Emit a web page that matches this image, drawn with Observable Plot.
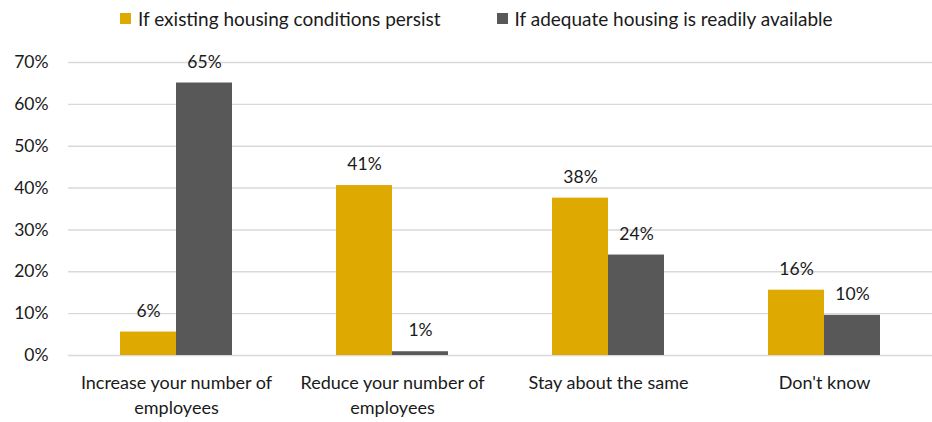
<!DOCTYPE html>
<html>
<head>
<meta charset="utf-8">
<script src="https://cdn.jsdelivr.net/npm/d3@7"></script>
<script src="https://cdn.jsdelivr.net/npm/@observablehq/plot@0.6"></script>
<style>
  html, body { margin: 0; padding: 0; background: #fff; }
  body { width: 932px; height: 422px; overflow: hidden; font-family: Lato, "Liberation Sans", sans-serif; color: #1a1a1a; }
  #legend { height: 36px; display: flex; align-items: center; padding-left: 120px; font-size: 19px; }
  .item { display: flex; align-items: center; margin-right: 56px; }
  .sw { width: 11px; height: 11px; margin-right: 7px; }
</style>
</head>
<body>
<div id="legend"></div>
<div id="chart"></div>
<script>
const categories = ["Increase your number of employees", "Reduce your number of employees", "Stay about the same", "Don't know"];
const tickLabels = ["Increase your number of\nemployees", "Reduce your number of\nemployees", "Stay about the same", "Don't know"];
const series = ["If existing housing conditions persist", "If adequate housing is readily available"];
const existingValues = [5.6, 40.6, 37.6, 15.6];
const adequateValues = [65.1, 0.9, 24.0, 9.6];
const seriesColors = ["#DEA900", "#585858"];
const yTicks = [0, 10, 20, 30, 40, 50, 60, 70];

const data = [];
categories.forEach((c, i) => {
  data.push({category: c, series: series[0], value: existingValues[i]});
  data.push({category: c, series: series[1], value: adequateValues[i]});
});

const legend = document.getElementById("legend");
series.forEach((s, i) => {
  const item = document.createElement("div");
  item.className = "item";
  const sw = document.createElement("span");
  sw.className = "sw";
  sw.style.background = seriesColors[i];
  const t = document.createElement("span");
  t.textContent = s;
  item.appendChild(sw);
  item.appendChild(t);
  legend.appendChild(item);
});

const chart = Plot.plot({
  width: 932,
  height: 386,
  marginLeft: 67,
  marginRight: 0,
  marginTop: 26,
  marginBottom: 67,
  style: {fontFamily: "Lato, 'Liberation Sans', sans-serif", fontSize: "17px", color: "#1a1a1a", background: "#fff"},
  fx: {domain: categories, padding: 0, label: null},
  x: {domain: series, paddingInner: 0, paddingOuter: 0.914, axis: null},
  y: {domain: [0, 70], label: null},
  color: {domain: series, range: seriesColors},
  marks: [
    Plot.gridY(yTicks, {stroke: "#d9d9d9", strokeOpacity: 1, strokeWidth: 1.4}),
    Plot.barY(data, {fx: "category", x: "series", y: "value", fill: "series"}),
    Plot.text(data, {fx: "category", x: "series", y: "value", text: d => Math.round(d.value) + "%", dy: -21, fontSize: 17.5, fill: "#1a1a1a"}),
    Plot.axisY(yTicks, {tickSize: 0, tickPadding: 20, tickFormat: d => d + "%", fontSize: 17.5, label: null}),
    Plot.axisFx({anchor: "bottom", tickSize: 0, tickPadding: 15, fontSize: 18, lineHeight: 1.42, label: null,
      tickFormat: d => tickLabels[categories.indexOf(d)]})
  ]
});
document.getElementById("chart").appendChild(chart);
</script>
</body>
</html>
